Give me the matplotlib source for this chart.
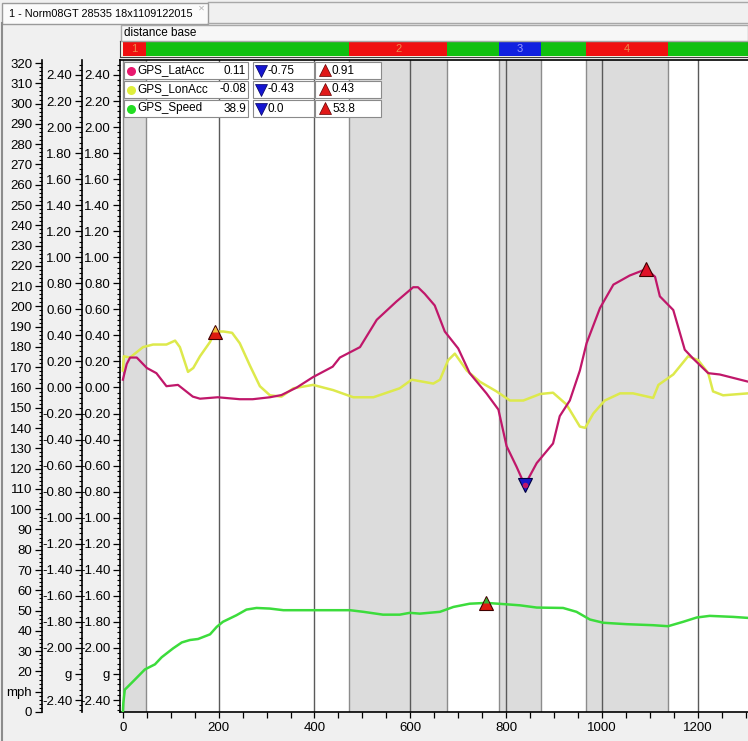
import numpy as np
import matplotlib
matplotlib.use('Agg')
import matplotlib.pyplot as plt
from matplotlib.ticker import MultipleLocator, FixedLocator, FixedFormatter
from matplotlib.patches import Rectangle

# --- data ---
lat_x = [0, 8, 15, 29, 50, 70, 91, 115, 146, 161, 198, 244, 271, 307, 331, 363, 397, 438, 453, 495,
         530, 571, 606, 616, 630, 651, 672, 700, 724, 759, 784, 801, 822, 839, 864, 898, 912, 933,
         954, 968, 996, 1024, 1058, 1093, 1111, 1121, 1149, 1173, 1191, 1222, 1246, 1305]
lat_y = [0.06, 0.18, 0.23, 0.23, 0.15, 0.11, 0.01, 0.02, -0.07, -0.086, -0.075, -0.09, -0.09, -0.075,
         -0.058, 0.0, 0.08, 0.16, 0.23, 0.31, 0.52, 0.66, 0.77, 0.77, 0.72, 0.63, 0.43, 0.30, 0.11,
         -0.045, -0.17, -0.45, -0.61, -0.75, -0.58, -0.43, -0.22, -0.10, 0.13, 0.34, 0.61, 0.79, 0.86,
         0.91, 0.85, 0.70, 0.595, 0.29, 0.22, 0.11, 0.10, 0.045]

lon_x = [0, 2, 15, 42, 63, 91, 109, 119, 136, 147, 161, 182, 192, 210, 228, 244, 265, 286, 307, 331,
         356, 397, 439, 481, 523, 578, 603, 648, 662, 679, 693, 718, 745, 780, 808, 836, 871, 898, 926,
         954, 965, 982, 1006, 1038, 1065, 1107, 1118, 1149, 1180, 1201, 1222, 1232, 1253, 1305]
lon_y = [0.13, 0.24, 0.23, 0.31, 0.33, 0.33, 0.36, 0.31, 0.12, 0.15, 0.24, 0.35, 0.43, 0.43, 0.42,
         0.34, 0.17, 0.01, -0.06, -0.07, -0.006, 0.02, -0.02, -0.075, -0.075, -0.006, 0.06, 0.03, 0.06,
         0.21, 0.26, 0.13, 0.045, -0.03, -0.10, -0.10, -0.05, -0.04, -0.13, -0.30, -0.31, -0.20, -0.10,
         -0.045, -0.045, -0.08, 0.02, 0.10, 0.24, 0.21, 0.11, -0.03, -0.06, -0.045]

spd_x = [0, 1, 4, 21, 46, 67, 81, 105, 123, 140, 157, 182, 196, 209, 237, 258, 279, 307, 335, 390,
         474, 502, 543, 578, 599, 620, 662, 690, 724, 759, 801, 829, 864, 919, 947, 975, 1003, 1052,
         1107, 1138, 1170, 1198, 1225, 1274, 1305]
spd_y = [0.0, 4.5, 11, 15, 21, 23.5, 27, 31.4, 34.3, 35.5, 36, 38.3, 42, 44.5, 47.7, 50.5, 51.3, 51,
         50.2, 50.2, 50.2, 49.4, 48, 48, 48.9, 48.5, 49.4, 51.8, 53.4, 53.8, 53.1, 52.6, 51.5, 51.3,
         49.4, 45.6, 44, 43.3, 42.8, 42.3, 44.5, 46.6, 47.4, 46.9, 46.4]

names = ['GPS_LatAcc', 'GPS_LonAcc', 'GPS_Speed']
cursor_vals = [0.11, -0.08, 38.9]
min_vals = [-0.75, -0.43, 0.0]
max_vals = [0.91, 0.43, 53.8]
decimals = [2, 2, 1]

seg_edges = [0, 48, 473, 676, 785, 872, 967, 1138, 1305]
seg_labels = ['1', '', '2', '', '3', '', '4', '']
seg_colors = ['#f01010', '#10c010', '#f01010', '#10c010', '#1020e0', '#10c010', '#f01010', '#10c010']

title = '1 - Norm08GT 28535 18x1109122015'

# --- layout helpers (pixel boxes, origin top-left) ---
W, H = 748, 741
def fbox(x0, y0, x1, y1):
    return [x0 / W, 1 - y1 / H, (x1 - x0) / W, (y1 - y0) / H]

narrow = ['Liberation Sans Narrow', 'Liberation Sans', 'DejaVu Sans']
ui = ['Liberation Sans', 'DejaVu Sans']
c_lat, c_lon, c_spd = '#c0176a', '#dde94c', '#3cdc3c'

fig = plt.figure(figsize=(7.48, 7.41), dpi=100, facecolor='#f0f0f0')

xlim = (-6, 1305)
glim = (-2.492, 2.515)
mphlim = (0, 321.5)
g_ticks = [round(v, 2) for v in np.arange(-2.4, 2.41, 0.2)]
g_labels = ['g' if abs(v + 2.2) < 1e-6 else f'{v:.2f}' for v in g_ticks]
g_labels = [s.replace('-0.00', '0.00') for s in g_labels]
mph_ticks = list(range(0, 330, 10))
mph_labels = ['mph' if v == 10 else str(v) for v in mph_ticks]

def style_axis(a, ticks, labels, minor, lim):
    a.set_ylim(*lim)
    a.yaxis.set_major_locator(FixedLocator(ticks))
    a.yaxis.set_major_formatter(FixedFormatter(labels))
    a.yaxis.set_minor_locator(MultipleLocator(minor))
    a.tick_params(axis='y', which='major', length=5, width=0.9, pad=2, labelsize=9.5)
    a.tick_params(axis='y', which='minor', length=2.5, width=0.8)
    for t in a.get_yticklabels():
        t.set_family(narrow)

# main plot
ax = fig.add_axes(fbox(120, 60, 748, 712))
ax.set_facecolor('white')
ax.set_xlim(*xlim)
for i, lab in enumerate(seg_labels):
    if lab:
        ax.axvspan(seg_edges[i], seg_edges[i + 1], color='#dcdcdc', lw=0, zorder=0)
        for e in (seg_edges[i], seg_edges[i + 1]):
            ax.axvline(e, color='#8c8c8c', lw=1, zorder=1)
for gx in range(200, 1400, 200):
    ax.axvline(gx, color='#5a5a5a', lw=1, zorder=1)

ax.plot(lon_x, lon_y, color=c_lon, lw=1.8, zorder=3)
ax.plot(lat_x, lat_y, color=c_lat, lw=1.6, zorder=4)

style_axis(ax, g_ticks, g_labels, 0.04, glim)
ax.xaxis.set_major_locator(MultipleLocator(200))
ax.xaxis.set_minor_locator(MultipleLocator(50))
ax.tick_params(axis='x', which='both', length=4, width=0.9, pad=3, labelsize=9.5)
for t in ax.get_xticklabels():
    t.set_family(narrow)
ax.spines['right'].set_visible(False)
for s in ('left', 'bottom', 'top'):
    ax.spines[s].set_linewidth(1.2)

# min/max markers from the data
ilmax, ilmin = int(np.argmax(lat_y)), int(np.argmin(lat_y))
ax.plot(lat_x[ilmax], lat_y[ilmax], '^', ms=10, mfc='#e01228', mec='#400000', mew=0.8, zorder=6)
ax.plot(lat_x[ilmin], lat_y[ilmin], 'v', ms=10, mfc='#1818c8', mec='#000040', mew=0.8, zorder=6)
ax.plot(lat_x[ilmin], lat_y[ilmin], 'o', ms=3, color=c_lat, zorder=7)
iomax = int(np.argmax(lon_y))
ax.plot(lon_x[iomax], lon_y[iomax], '^', ms=10, mfc='#dd1a10', mec='#400000', mew=0.8, zorder=6)
ax.plot(lon_x[iomax], lon_y[iomax] + 0.02, '^', ms=4.5, mfc='#f0c040', mec='none', zorder=7)

# speed on its own scale
axs = ax.twinx()
axs.set_ylim(*mphlim)
axs.axis('off')
axs.plot(spd_x, spd_y, color=c_spd, lw=1.8, zorder=3)
ismax = int(np.argmax(spd_y))
axs.plot(spd_x[ismax], spd_y[ismax], '^', ms=10, mfc='#dd1a10', mec='#400000', mew=0.8, zorder=6)
axs.plot(spd_x[ismax], spd_y[ismax] + 1.3, '^', ms=4.5, mfc='#30b030', mec='none', zorder=7)

# extra left axes
for x0, ticks, labels, minor, lim in [(82, g_ticks, g_labels, 0.04, glim),
                                      (42, mph_ticks, mph_labels, 2, mphlim)]:
    a = fig.add_axes(fbox(x0, 60, x0 + 1, 712))
    a.patch.set_visible(False)
    for s in ('right', 'top', 'bottom'):
        a.spines[s].set_visible(False)
    a.spines['left'].set_linewidth(1.2)
    a.set_xticks([])
    style_axis(a, ticks, labels, minor, lim)

# segment bar
sa = fig.add_axes(fbox(120, 41, 748, 57))
sa.set_xlim(*xlim)
sa.set_ylim(0, 1)
sa.set_facecolor('#f4f4e6')
for i, c in enumerate(seg_colors):
    sa.axvspan(seg_edges[i], seg_edges[i + 1], ymin=0.08, ymax=0.92, color=c, lw=0)
    if seg_labels[i]:
        tc = '#9a9aff' if c == '#1020e0' else '#ec8a4c'
        sa.text((seg_edges[i] + seg_edges[i + 1]) / 2, 0.5, seg_labels[i], ha='center', va='center',
                fontsize=8, color=tc, family=ui)
sa.set_xticks([])
sa.set_yticks([])
for s in sa.spines.values():
    s.set_color('#404040')
    s.set_linewidth(0.8)

# window chrome and legend table drawn in pixel space
ov = fig.add_axes([0, 0, 1, 1], zorder=10)
ov.set_xlim(0, W)
ov.set_ylim(H, 0)
ov.axis('off')

ov.plot([208, W], [1.5, 1.5], color='#a8a8a8', lw=1)
ov.plot([208, W], [23, 23], color='#a8a8a8', lw=1)
ov.plot([2, 2], [23, H], color='#8c8c8c', lw=1.5)
ov.add_patch(Rectangle((2, 3), 206, 21, fc='#fbfbfb', ec='#9a9a9a', lw=1))
ov.text(9, 14, title, fontsize=7.8, va='center', ha='left', family=ui)
ov.text(201, 8, '\u2715', fontsize=6, va='center', ha='center', color='#b4b4b4', family='DejaVu Sans')
ov.add_patch(Rectangle((121, 24.5), 627, 16, fc='#f7f7f7', ec='#a8a8a8', lw=1))
ov.text(124, 32.5, 'distance base', fontsize=8.5, va='center', ha='left', family=ui)

circle_colors = ['#e8186e', '#dfee3c', '#22dd22']
for i in range(3):
    y = 62 + 19 * i
    for bx, bw in [(124, 124), (253, 61), (315, 66)]:
        ov.add_patch(Rectangle((bx, y), bw, 17, fc='white', ec='#8a8a8a', lw=0.8))
    cy = y + 8.5
    ov.plot(131, cy, 'o', ms=6.5, color=circle_colors[i], mec='none')
    ov.text(137, cy, names[i], fontsize=8.5, va='center', ha='left', family=ui)
    fmt = f'{{:.{decimals[i]}f}}'
    ov.text(246, cy, fmt.format(cursor_vals[i]), fontsize=8.5, va='center', ha='right', family=ui)
    ov.plot(261, cy, 'v', ms=9, mfc='#1515d0', mec='#000060', mew=0.5)
    ov.text(268, cy, fmt.format(min_vals[i]), fontsize=8.5, va='center', ha='left', family=ui)
    ov.plot(325, cy - 0.5, '^', ms=9, mfc='#e01818', mec='#600000', mew=0.5)
    ov.text(332, cy, fmt.format(max_vals[i]), fontsize=8.5, va='center', ha='left', family=ui)

fig.savefig('out.png', dpi=100, facecolor=fig.get_facecolor())
